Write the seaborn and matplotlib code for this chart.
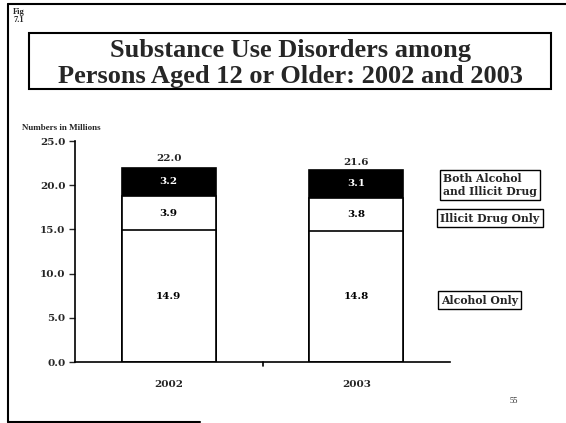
import matplotlib
matplotlib.use("Agg")
import matplotlib.pyplot as plt
from matplotlib.patches import Rectangle
from matplotlib.lines import Line2D
import seaborn as sns
import pandas as pd

# Substance use disorders, millions of persons aged 12+
years = ["2002", "2003"]
alcohol_only = [14.9, 14.8]
illicit_only = [3.9, 3.8]
both = [3.2, 3.1]
totals = [22.0, 21.6]
y_ticks = [0, 5, 10, 15, 20, 25]
legend_labels = ["Both Alcohol\nand Illicit Drug", "Illicit Drug Only", "Alcohol Only"]
title_lines = ["Substance Use Disorders among", "Persons Aged 12 or Older: 2002 and 2003"]

sns.set_style("white")
plt.rcParams["font.family"] = ["Liberation Serif", "DejaVu Serif"]
plt.rcParams["font.weight"] = "bold"
SMALL = ["DejaVu Serif"]

df = pd.DataFrame({
    "year": years,
    "alcohol": alcohol_only,
    "illicit": illicit_only,
    "both": both,
})
df["lvl1"] = df["alcohol"]
df["lvl2"] = df["alcohol"] + df["illicit"]
df["lvl3"] = df["lvl2"] + df["both"]

W, H = 566, 423
fig = plt.figure(figsize=(W / 100, H / 100), dpi=100)
ax = fig.add_axes([75 / W, 1 - 362 / H, (450 - 75) / W, (362 - 141) / H])

# Stacked bars: draw cumulative heights from tallest to shortest
sns.barplot(data=df, x="year", y="lvl3", color="black", edgecolor="black",
            linewidth=1.2, width=0.5, saturation=1, ax=ax)
sns.barplot(data=df, x="year", y="lvl2", color="white", edgecolor="black",
            linewidth=1.2, width=0.5, saturation=1, ax=ax)
sns.barplot(data=df, x="year", y="lvl1", color="white", edgecolor="black",
            linewidth=1.2, width=0.5, saturation=1, ax=ax)

ax.set_xlim(-0.5, 1.5)
ax.set_ylim(0, 25)
ax.set_yticks(y_ticks)
ax.set_yticklabels([f"{v:.1f}" for v in y_ticks], fontsize=7.5, fontweight="bold",
                   family=SMALL)
ax.set_xticks([0, 1])
ax.set_xticklabels(years, fontsize=7.5, fontweight="bold", family=SMALL)
ax.tick_params(axis="x", length=0, pad=13)
ax.tick_params(axis="y", length=4, width=1, direction="out", left=True, pad=3)
ax.set_xlabel("")
ax.set_ylabel("")
for s in ["top", "right"]:
    ax.spines[s].set_visible(False)
for s in ["left", "bottom"]:
    ax.spines[s].set_color("black")
    ax.spines[s].set_linewidth(1.2)
# divider tick between the two year categories
ax.plot([0.5, 0.5], [0, -0.5], color="black", lw=1.2, clip_on=False)

# Segment values and totals
for i in range(len(years)):
    ax.text(i, alcohol_only[i] / 2, f"{alcohol_only[i]:.1f}", ha="center", va="center",
            fontsize=7.5, fontweight="bold", color="black", family=SMALL)
    ax.text(i, df["lvl1"][i] + illicit_only[i] / 2, f"{illicit_only[i]:.1f}", ha="center",
            va="center", fontsize=7.5, fontweight="bold", color="black", family=SMALL)
    ax.text(i, df["lvl2"][i] + both[i] / 2, f"{both[i]:.1f}", ha="center",
            va="center", fontsize=7.5, fontweight="bold", color="white", family=SMALL)
    ax.annotate(f"{totals[i]:.1f}", (i, totals[i]), xytext=(0, 3), textcoords="offset points",
                ha="center", va="bottom", fontsize=7.5, fontweight="bold", family=SMALL)

# Segment labels at the right of the bars
box = dict(boxstyle="square,pad=0.3", facecolor="white", edgecolor="black", linewidth=1)
fig.text(443 / W, 1 - 185 / H, legend_labels[0], ha="left", va="center", fontsize=7.8,
         fontweight="bold", bbox=box, linespacing=1.15, family=SMALL)
fig.text(440 / W, 1 - 218 / H, legend_labels[1], ha="left", va="center", fontsize=7.8,
         fontweight="bold", bbox=box, family=SMALL)
fig.text(441 / W, 1 - 300 / H, legend_labels[2], ha="left", va="center", fontsize=7.8,
         fontweight="bold", bbox=box, family=SMALL)

# Title box
fig.patches.append(Rectangle((29 / W, 1 - 89 / H), (551 - 29) / W, (89 - 33) / H,
                             transform=fig.transFigure, fill=False, edgecolor="black",
                             linewidth=1.5))
fig.text(290 / W, 1 - 57 / H, title_lines[0], ha="center", va="baseline",
         fontsize=19, fontweight="bold")
fig.text(290 / W, 1 - 83 / H, title_lines[1], ha="center", va="baseline",
         fontsize=19, fontweight="bold")

fig.text(22 / W, 1 - 128 / H, "Numbers in Millions", ha="left", va="center",
         fontsize=6.5, fontweight="bold")
fig.text(13 / W, 1 - 16 / H, "Fig\n7.1", ha="left", va="center", fontsize=6,
         fontweight="bold", linespacing=1.1)
fig.text(514 / W, 1 - 401 / H, "55", ha="center", va="center", fontsize=6,
         fontweight="normal")

# Page frame
for xs, ys in [([8, 8], [4, 422]), ([8, 566], [4, 4]), ([8, 200], [422, 422])]:
    fig.lines.append(Line2D([x / W for x in xs], [1 - y / H for y in ys],
                            transform=fig.transFigure, color="black", linewidth=1.5))

fig.savefig("out.png", dpi=100)
